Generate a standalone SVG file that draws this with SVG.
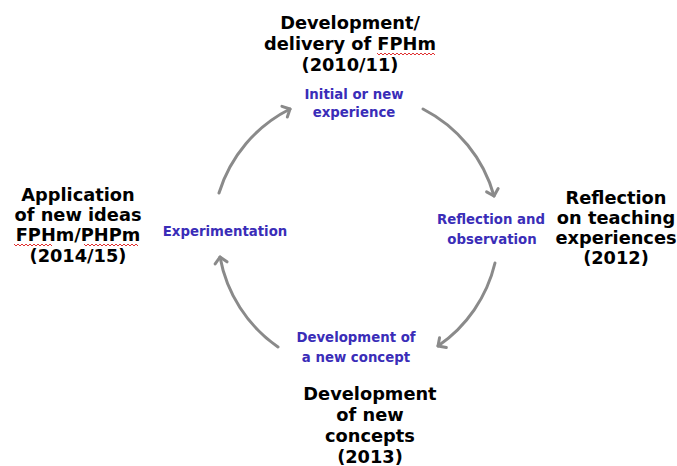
<svg xmlns="http://www.w3.org/2000/svg" width="677" height="466" viewBox="0 0 677 466">
<style>
.blk{font-family:"DejaVu Sans","Verdana",sans-serif;font-weight:bold;font-size:17.8px;fill:#000;text-anchor:middle}
.pur{font-family:"DejaVu Sans",sans-serif;font-weight:bold;font-size:13.3px;fill:#3a2db8;text-anchor:middle}
.arc{fill:none;stroke:#8a8a8a;stroke-width:3;stroke-linecap:round}
.sq{fill:none;stroke:#e03030;stroke-width:1}
</style>
<defs>
<marker id="ah" viewBox="-9 -8 11 16" markerWidth="11" markerHeight="16" refX="0" refY="0" orient="auto" markerUnits="userSpaceOnUse">
<path d="M-6,-6 L0,0 L-6,6" fill="none" stroke="#8a8a8a" stroke-width="3" stroke-linecap="round" stroke-linejoin="round"/>
</marker>
</defs>
<rect width="677" height="466" fill="#fff"/>
<g id="connectors">
<path class="arc" d="M423,109 A140,140 0 0 1 494,196" marker-end="url(#ah)"/>
<path class="arc" d="M495,263 A140,140 0 0 1 438,346" marker-end="url(#ah)"/>
<path class="arc" d="M278,347 A140,140 0 0 1 220,257" marker-end="url(#ah)"/>
<path class="arc" d="M219,193 A140,140 0 0 1 290,109" marker-end="url(#ah)"/>
</g>
<g id="node-top">
<text class="blk" x="350" y="29">Development/</text>
<text class="blk" x="350" y="50">delivery of FPHm</text>
<text class="blk" x="350" y="71">(2010/11)</text>
<path class="sq" d="M377,53 l2,2 l2,-2 l2,2 l2,-2 l2,2 l2,-2 l2,2 l2,-2 l2,2 l2,-2 l2,2 l2,-2 l2,2 l2,-2 l2,2 l2,-2 l2,2 l2,-2 l2,2 l2,-2 l2,2 l2,-2 l2,2 l2,-2 l2,2 l2,-2 l2,2 l2,-2 l2,2"/>
<text class="pur" x="354" y="99">Initial or new</text>
<text class="pur" x="354" y="117">experience</text>
</g>
<g id="node-right">
<text class="blk" x="616" y="204">Reflection</text>
<text class="blk" x="616" y="224">on teaching</text>
<text class="blk" x="616" y="244">experiences</text>
<text class="blk" x="616" y="264">(2012)</text>
<text class="pur" x="491" y="224">Reflection and</text>
<text class="pur" x="492" y="244">observation</text>
</g>
<g id="node-bottom">
<text class="pur" x="356" y="342">Development of</text>
<text class="pur" x="356" y="362">a new concept</text>
<text class="blk" x="370" y="400">Development</text>
<text class="blk" x="370" y="421">of new</text>
<text class="blk" x="370" y="442">concepts</text>
<text class="blk" x="370" y="463">(2013)</text>
</g>
<g id="node-left">
<text class="blk" x="78" y="201">Application</text>
<text class="blk" x="78" y="221">of new ideas</text>
<text class="blk" x="78" y="241">FPHm/PHPm</text>
<text class="blk" x="78" y="262">(2014/15)</text>
<path class="sq" d="M14,244 l2,2 l2,-2 l2,2 l2,-2 l2,2 l2,-2 l2,2 l2,-2 l2,2 l2,-2 l2,2 l2,-2 l2,2 l2,-2 l2,2 l2,-2 l2,2 l2,-2 l2,2"/>
<path class="sq" d="M84,244 l2,2 l2,-2 l2,2 l2,-2 l2,2 l2,-2 l2,2 l2,-2 l2,2 l2,-2 l2,2 l2,-2 l2,2 l2,-2 l2,2 l2,-2 l2,2 l2,-2 l2,2 l2,-2 l2,2 l2,-2 l2,2 l2,-2 l2,2 l2,-2 l2,2"/>
<text class="pur" x="225" y="236">Experimentation</text>
</g>
</svg>
